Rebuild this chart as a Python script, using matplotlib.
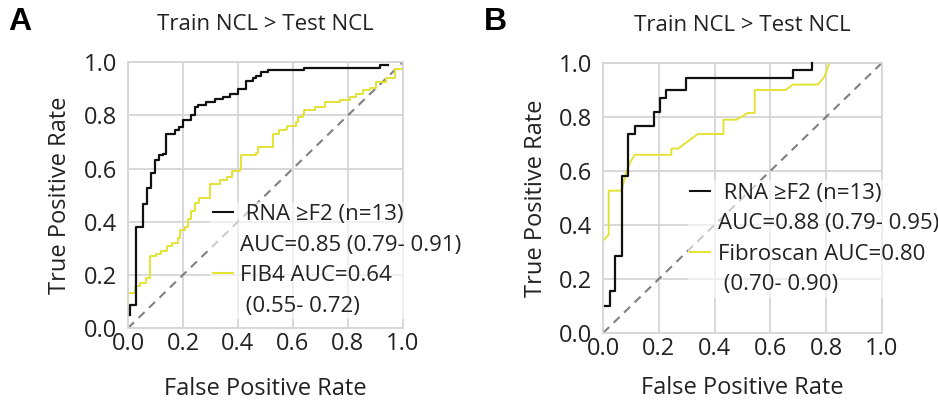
import numpy as np
import matplotlib
matplotlib.use("Agg")
import matplotlib.pyplot as plt
from matplotlib.lines import Line2D

plt.rcParams['font.family'] = ['Open Sans', 'DejaVu Sans']

# --- Panel A: RNA vs FIB4 (steps: vertical at previous x, then horizontal) ---
a_rna_fpr = [0.006, 0.028, 0.055, 0.069, 0.085, 0.097, 0.113, 0.127, 0.139, 0.17,
             0.185, 0.2, 0.23, 0.242, 0.255, 0.285, 0.315, 0.345, 0.37, 0.4,
             0.428, 0.455, 0.467, 0.485, 0.51, 0.642, 0.915, 0.945]
a_rna_tpr = [0.05, 0.088, 0.38, 0.466, 0.525, 0.584, 0.634, 0.65, 0.656, 0.73,
             0.744, 0.756, 0.784, 0.80, 0.83, 0.84, 0.85, 0.862, 0.871, 0.88,
             0.90, 0.93, 0.94, 0.95, 0.962, 0.97, 0.98, 0.99]

a_fib_fpr = [0.0, 0.024, 0.042, 0.067, 0.08, 0.1, 0.12, 0.14, 0.16, 0.18,
             0.19, 0.206, 0.218, 0.23, 0.242, 0.26, 0.297, 0.333, 0.36, 0.38,
             0.406, 0.412, 0.467, 0.473, 0.527, 0.55, 0.576, 0.58, 0.61, 0.618,
             0.636, 0.642, 0.68, 0.715, 0.77, 0.806, 0.83, 0.855, 0.879, 0.903,
             0.94, 0.97, 1.0]
a_fib_tpr = [0.1, 0.13, 0.16, 0.17, 0.19, 0.27, 0.28, 0.29, 0.31, 0.32,
             0.34, 0.37, 0.38, 0.41, 0.44, 0.47, 0.49, 0.54, 0.556, 0.57,
             0.59, 0.6, 0.65, 0.66, 0.68, 0.73, 0.744, 0.75, 0.76, 0.775,
             0.795, 0.806, 0.82, 0.83, 0.85, 0.856, 0.869, 0.88, 0.894, 0.904,
             0.925, 0.94, 0.975]

# --- Panel B: RNA vs Fibroscan ---
b_rna_fpr = [0.006, 0.024, 0.044, 0.068, 0.09, 0.113, 0.183, 0.203, 0.227, 0.296,
             0.681, 0.75, 0.75]
b_rna_tpr = [0.10, 0.10, 0.157, 0.286, 0.58, 0.737, 0.765, 0.817, 0.87, 0.90,
             0.946, 0.975, 1.0]

b_fs_fpr = [0.004, 0.02, 0.02, 0.066, 0.084, 0.096, 0.113, 0.245, 0.245, 0.269,
            0.34, 0.432, 0.432, 0.478, 0.52, 0.544, 0.544, 0.655, 0.681, 0.771,
            0.795, 0.812]
b_fs_tpr = [0.346, 0.364, 0.527, 0.527, 0.60, 0.63, 0.66, 0.66, 0.683, 0.683,
            0.737, 0.737, 0.79, 0.79, 0.815, 0.815, 0.90, 0.90, 0.92, 0.92,
            0.95, 1.0]

ticks = [0.0, 0.2, 0.4, 0.6, 0.8, 1.0]

BLACK = '#111111'
YELLOW = '#e3e336'
GRID = '#d6d6d6'


def style_axes(ax, xpad):
    ax.set_xlim(0, 1)
    ax.set_ylim(0, 1)
    ax.set_xticks(ticks)
    ax.set_yticks(ticks)
    ax.set_xticklabels([f"{t:.1f}" for t in ticks])
    ax.set_yticklabels([f"{t:.1f}" for t in ticks])
    ax.grid(True, color=GRID, linewidth=1.3)
    ax.set_axisbelow(True)
    for s in ax.spines.values():
        s.set_color(GRID)
        s.set_linewidth(1.3)
    ax.tick_params(axis='both', length=0, labelsize=17, colors='#222222')
    ax.tick_params(axis='x', pad=3)
    ax.tick_params(axis='y', pad=8)
    ax.set_xlabel("False Positive Rate", fontsize=17, labelpad=xpad, color='#222222')
    ax.set_ylabel("True Positive Rate", fontsize=17, labelpad=8, color='#222222')
    ax.set_title("Train NCL > Test NCL", fontsize=16, pad=23, color='#222222')
    ax.plot([0, 1], [0, 1], ls=(0, (4, 3)), color='#808080', lw=1.5, zorder=1)


def add_legend(ax, labels, anchor):
    blank = Line2D([], [], color='none')
    handles = [Line2D([], [], color=BLACK, lw=1.5), blank,
               Line2D([], [], color=YELLOW, lw=1.5), blank]
    leg = ax.legend(handles, labels, loc='upper left', bbox_to_anchor=anchor,
                    fontsize=16, frameon=True, framealpha=0.6, edgecolor='none',
                    handlelength=0.9, handletextpad=0.35, labelspacing=0.43,
                    borderpad=0.1, borderaxespad=0)
    leg.get_frame().set_facecolor('white')
    for t in leg.get_texts():
        t.set_color('#222222')
    leg.set_zorder(5)
    return leg


fig = plt.figure(figsize=(9.38, 4.04), dpi=100)
ax_a = fig.add_axes([0.1365, 0.188, 0.293, 0.658])
ax_b = fig.add_axes([0.643, 0.176, 0.297, 0.668])

# Panel A
style_axes(ax_a, 15)
ax_a.plot(a_rna_fpr, a_rna_tpr, drawstyle='steps-pre', color=BLACK, lw=1.6, zorder=3, clip_on=False)
ax_a.plot(a_fib_fpr, a_fib_tpr, drawstyle='steps-pre', color=YELLOW, lw=1.4, zorder=2, clip_on=False)
add_legend(ax_a, [" RNA \u2265F2 (n=13)", "AUC=0.85 (0.79- 0.91)",
                  "FIB4 AUC=0.64", " (0.55- 0.72)"], (0.30, 0.475))

# Panel B
style_axes(ax_b, 11)
ax_b.plot(b_rna_fpr, b_rna_tpr, drawstyle='steps-pre', color=BLACK, lw=1.6, zorder=3, clip_on=False)
ax_b.plot(b_fs_fpr, b_fs_tpr, color=YELLOW, lw=1.4, zorder=2, clip_on=False)
add_legend(ax_b, [" RNA \u2265F2 (n=13)", "AUC=0.88 (0.79- 0.95)",
                  "Fibroscan AUC=0.80", " (0.70- 0.90)"], (0.305, 0.565))

fig.text(0.021, 0.945, "A", fontsize=23, fontweight='bold', family='Liberation Sans',
         ha='center', va='center')
fig.text(0.528, 0.945, "B", fontsize=23, fontweight='bold', family='Liberation Sans',
         ha='center', va='center')

fig.savefig("out.png", dpi=100, facecolor='white')
